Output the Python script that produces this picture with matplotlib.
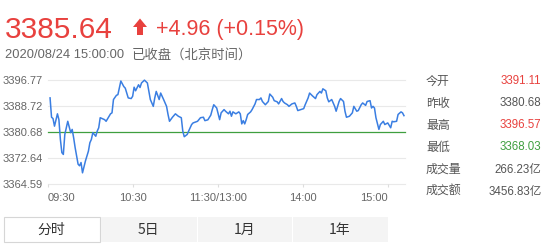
import matplotlib
matplotlib.use('Agg')
import matplotlib.pyplot as plt
from matplotlib.patches import Rectangle, Polygon

W, H = 543, 249

# ---------------- data ----------------
last_price = '3385.64'
change_text = '+4.96 (+0.15%)'
timestamp = '2020/08/24 15:00:00'
status = '已收盘（北京时间）'

minutes = [0, 1, 2, 3, 5, 6, 7, 8, 9, 10, 11, 12, 14, 15, 16, 17, 19, 20, 21, 22,
           24, 26, 27, 28, 29, 31, 32, 33, 34, 37, 38, 41, 42, 43, 45, 46, 48, 50, 51, 53,
           55, 56, 57, 58, 60, 61, 62, 64, 66, 67, 68, 70, 71, 72, 74, 75, 77, 79, 80, 81,
           83, 85, 87, 89, 90, 91, 93, 94, 96, 97, 100, 102, 104, 105, 107, 109, 110, 111, 113, 115,
           116, 118, 119, 121, 122, 123, 124, 126, 128, 129, 130, 131, 132, 133, 134, 136, 137, 139, 140, 142,
           143, 144, 146, 148, 149, 151, 152, 154, 155, 157, 158, 159, 161, 162, 164, 166, 167, 168, 170, 172,
           173, 175, 176, 178, 180, 181, 183, 184, 185, 187, 188, 189, 191, 193, 194, 196, 197, 199, 200, 201,
           203, 205, 206, 208, 209, 211, 212, 214, 215, 217, 218, 219, 220, 221, 223, 224, 226, 227, 229, 231,
           232, 233, 235, 236, 238, 239, 240]
prices = [3391.11, 3385.15, 3384.75, 3382.40, 3386.20, 3384.40, 3378.30, 3374.25, 3373.70, 3379.85,
          3381.90, 3383.90, 3380.40, 3381.40, 3378.80, 3375.80, 3370.70, 3370.20, 3371.20, 3368.03,
          3371.70, 3374.70, 3377.30, 3378.30, 3380.40, 3379.30, 3380.90, 3381.90, 3385.00, 3384.40,
          3383.90, 3386.20, 3386.50, 3390.60, 3391.90, 3392.10, 3396.30, 3394.60, 3394.10, 3391.10,
          3390.90, 3391.60, 3394.40, 3393.30, 3395.15, 3394.30, 3395.70, 3396.57, 3395.70, 3393.10,
          3390.60, 3388.50, 3391.10, 3393.10, 3390.60, 3392.60, 3390.60, 3388.50, 3386.00, 3383.90,
          3385.15, 3386.20, 3385.45, 3385.00, 3380.90, 3379.15, 3379.85, 3380.90, 3382.90, 3383.40,
          3383.90, 3385.00, 3385.15, 3384.10, 3384.35, 3385.80, 3387.50, 3389.00, 3388.00, 3384.40,
          3386.50, 3387.50, 3387.00, 3386.20, 3387.00, 3385.45, 3386.80, 3386.20, 3386.80, 3386.20,
          3383.10, 3384.10, 3383.10, 3384.40, 3386.00, 3386.80, 3387.50, 3389.25, 3390.60, 3390.60,
          3391.10, 3390.00, 3389.00, 3390.00, 3392.30, 3391.30, 3390.25, 3389.90, 3389.25, 3390.90,
          3390.00, 3389.55, 3389.00, 3388.50, 3389.25, 3389.55, 3388.50, 3387.20, 3387.50, 3387.80,
          3389.00, 3391.10, 3392.60, 3391.70, 3390.90, 3392.10, 3393.10, 3392.60, 3393.90, 3393.30,
          3391.10, 3389.90, 3390.60, 3388.50, 3387.00, 3390.00, 3390.90, 3390.00, 3387.00, 3385.15,
          3385.45, 3386.50, 3388.50, 3387.00, 3387.20, 3389.00, 3389.55, 3388.80, 3390.00, 3390.25,
          3388.00, 3388.50, 3388.00, 3385.00, 3381.40, 3382.90, 3383.90, 3382.90, 3383.40, 3381.90,
          3383.90, 3383.75, 3383.90, 3386.00, 3386.80, 3386.50, 3385.64]
prev_close = 3380.68
y_ticks = [3364.59, 3372.64, 3380.68, 3388.72, 3396.77]
x_labels = ['09:30', '10:30', '11:30/13:00', '14:00', '15:00']
x_label_pos = [-1.4, 56.3, 113.9, 171.5, 229.2]

stat_labels = ['今开', '昨收', '最高', '最低', '成交量', '成交额']
stat_values = ['3391.11', '3380.68', '3396.57', '3368.03', '266.23亿', '3456.83亿']
tabs = ['分时', '5日', '1月', '1年']

# ---------------- style ----------------
RED = '#e8413e'
GREEN = '#3f9f3f'
GRAY = '#666666'
DARK = '#555555'
BLUE = '#3a7ee2'
LATIN = ['Liberation Sans', 'Noto Sans CJK SC', 'DejaVu Sans']
CJK = ['Noto Sans CJK SC', 'Liberation Sans', 'DejaVu Sans']
stat_colors = [RED, DARK, RED, GREEN, DARK, DARK]


def fx(x):
    return x / W


def fy(y):
    return 1 - y / H


fig = plt.figure(figsize=(W / 100, H / 100), dpi=100)
fig.patch.set_facecolor('white')

# header
fig.text(fx(5), fy(38), last_price, color=RED, fontsize=21.5, family=LATIN, va='baseline', ha='left')
arrow = Polygon([(fx(133), fy(27)), (fx(140), fy(18.5)), (fx(147), fy(27)), (fx(143), fy(27)),
                 (fx(143), fy(35)), (fx(137), fy(35)), (fx(137), fy(27))],
                closed=True, transform=fig.transFigure, facecolor=RED, edgecolor='none')
fig.patches.append(arrow)
fig.text(fx(156), fy(35), change_text, color=RED, fontsize=15.5, family=LATIN, va='baseline', ha='left')
fig.text(fx(5), fy(58), timestamp, color=GRAY, fontsize=9.3, family=LATIN, va='baseline', ha='left')
fig.text(fx(132), fy(59), status, color=GRAY, fontsize=9.6, family=CJK, va='baseline', ha='left')

# chart
ax = fig.add_axes([fx(48), fy(184), (405 - 48) / W, (184 - 79.5) / H])
ax.set_xlim(-1.4, 240.7)
ax.set_ylim(y_ticks[0], y_ticks[-1])
for v in y_ticks:
    if v == prev_close:
        continue
    ax.axhline(v, color='#e9e9e9', lw=0.8, clip_on=False, zorder=1)
ax.axhline(prev_close, color=GREEN, lw=0.9, clip_on=False, zorder=2)
ax.plot(minutes, prices, color=BLUE, lw=1.1, zorder=3, solid_joinstyle='round')
for s in ax.spines.values():
    s.set_visible(False)
ax.set_yticks(y_ticks)
ax.set_yticklabels(['%.2f' % v for v in y_ticks], fontsize=8, color=GRAY, family=LATIN)
ax.tick_params(axis='y', length=0, pad=3.5)
ax.set_xticks(x_label_pos)
ax.set_xticklabels(x_labels, fontsize=8, color=GRAY, family=LATIN)
ax.tick_params(axis='x', length=2.5, color='#dddddd', pad=4)
tl = ax.get_xticklabels()
tl[0].set_horizontalalignment('left')
tl[-1].set_horizontalalignment('right')
ax.set_facecolor('none')

# stats panel
row_y = [81, 103, 125, 147, 169.5, 191.5]
for lab, val, col, yy in zip(stat_labels, stat_values, stat_colors, row_y):
    fig.text(fx(426), fy(yy), lab, color=DARK, fontsize=8.6, family=CJK, va='center', ha='left')
    fig.text(fx(541.5), fy(yy), val, color=col, fontsize=8.3, family=LATIN, va='center', ha='right')

# tabs
tab_edges = [3, 100, 197, 292, 388]
for i, name in enumerate(tabs):
    x0, x1 = tab_edges[i], tab_edges[i + 1]
    if i == 0:
        r = Rectangle((fx(x0 + 0.5), fy(242)), (x1 - x0 - 1) / W, 25 / H, transform=fig.transFigure,
                      facecolor='white', edgecolor='#d6d6d6', lw=0.8)
    else:
        r = Rectangle((fx(x0 + 0.5), fy(242)), (x1 - x0 - 1) / W, 25 / H, transform=fig.transFigure,
                      facecolor='#f4f4f4', edgecolor='none')
    fig.patches.append(r)
    fig.text(fx((x0 + x1) / 2), fy(229.5), name, color='#333333', fontsize=10, family=CJK,
             va='center', ha='center')

fig.savefig('out.png', dpi=100, facecolor='white')
